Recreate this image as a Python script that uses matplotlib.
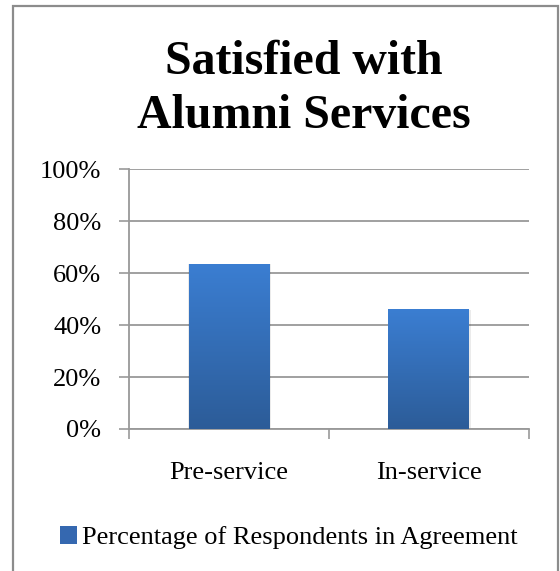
import numpy as np
import matplotlib
matplotlib.use("Agg")
import matplotlib.pyplot as plt
import matplotlib.ticker as mtick
from matplotlib.colors import LinearSegmentedColormap
from matplotlib.patches import Rectangle, Patch

groups = ["Pre-service", "In-service"]
agree = [0.636, 0.462]
series_name = "Percentage of Respondents in Agreement"

plt.rcParams["font.family"] = ["Liberation Serif", "DejaVu Serif"]
grid_c = "#999999"
blues = LinearSegmentedColormap.from_list("bar", ["#2c5c98", "#3b7ed2"])

fig = plt.figure(figsize=(5.6, 5.71), dpi=100)
ax = fig.add_axes([0.2304, 0.2487, 0.7142, 0.4545])

x = np.arange(len(groups))
bars = ax.bar(x, agree, width=0.405, color="none", zorder=3)

# vertical gradient fill, clipped to each bar
grad = np.linspace(0, 1, 256).reshape(-1, 1)
for b in bars:
    x0, y0 = b.get_x(), b.get_y()
    w, h = b.get_width(), b.get_height()
    # faint shadow around the bar
    sh = Rectangle((x0 - 0.004, y0 - 0.006), w + 0.010, h + 0.004, facecolor="#000000",
                   alpha=0.08, edgecolor="none", zorder=2)
    ax.add_patch(sh)
    im = ax.imshow(grad, cmap=blues, aspect="auto", origin="lower",
                   extent=(x0, x0 + w, y0, y0 + h), zorder=3)
    im.set_clip_path(b)

ax.set_xlim(-0.5, 1.5)
ax.set_ylim(0, 1.0)
ax.yaxis.set_major_locator(mtick.MultipleLocator(0.2))
ax.yaxis.set_major_formatter(mtick.PercentFormatter(1.0, decimals=0))
ax.set_xticks(x)
ax.set_xticklabels(groups, fontsize=19)
ax.set_xticks([-0.5, 0.5, 1.5], minor=True)
ax.tick_params(axis="x", which="major", length=0, pad=24)
ax.tick_params(axis="x", which="minor", length=7, width=1.2, color=grid_c)
ax.tick_params(axis="y", length=7, width=1.2, color=grid_c, labelsize=19, pad=13)
ax.grid(axis="y", color=grid_c, lw=1.3, zorder=0)
ax.set_axisbelow(True)
for s in ["top", "right"]:
    ax.spines[s].set_visible(False)
for s in ["left", "bottom"]:
    ax.spines[s].set_color(grid_c)
    ax.spines[s].set_linewidth(1.3)

fig.text(0.543, 0.930, "Satisfied with\nAlumni Services", ha="center", va="top",
         fontsize=34.5, fontweight="bold", linespacing=1.3)

fig.legend(handles=[Patch(facecolor="#3568b0", edgecolor="none", label=series_name)],
           loc="center", bbox_to_anchor=(0.516, 0.058), frameon=False, fontsize=19,
           handlelength=0.65, handleheight=0.65, handletextpad=0.2)

# chart border
fig.patches.append(Rectangle((13 / 560, -0.01), 545 / 560, 1 - 5.5 / 571 + 0.01,
                             transform=fig.transFigure, fill=False,
                             edgecolor="#8c8c8c", lw=1.6))

fig.savefig("out.png", dpi=100)
